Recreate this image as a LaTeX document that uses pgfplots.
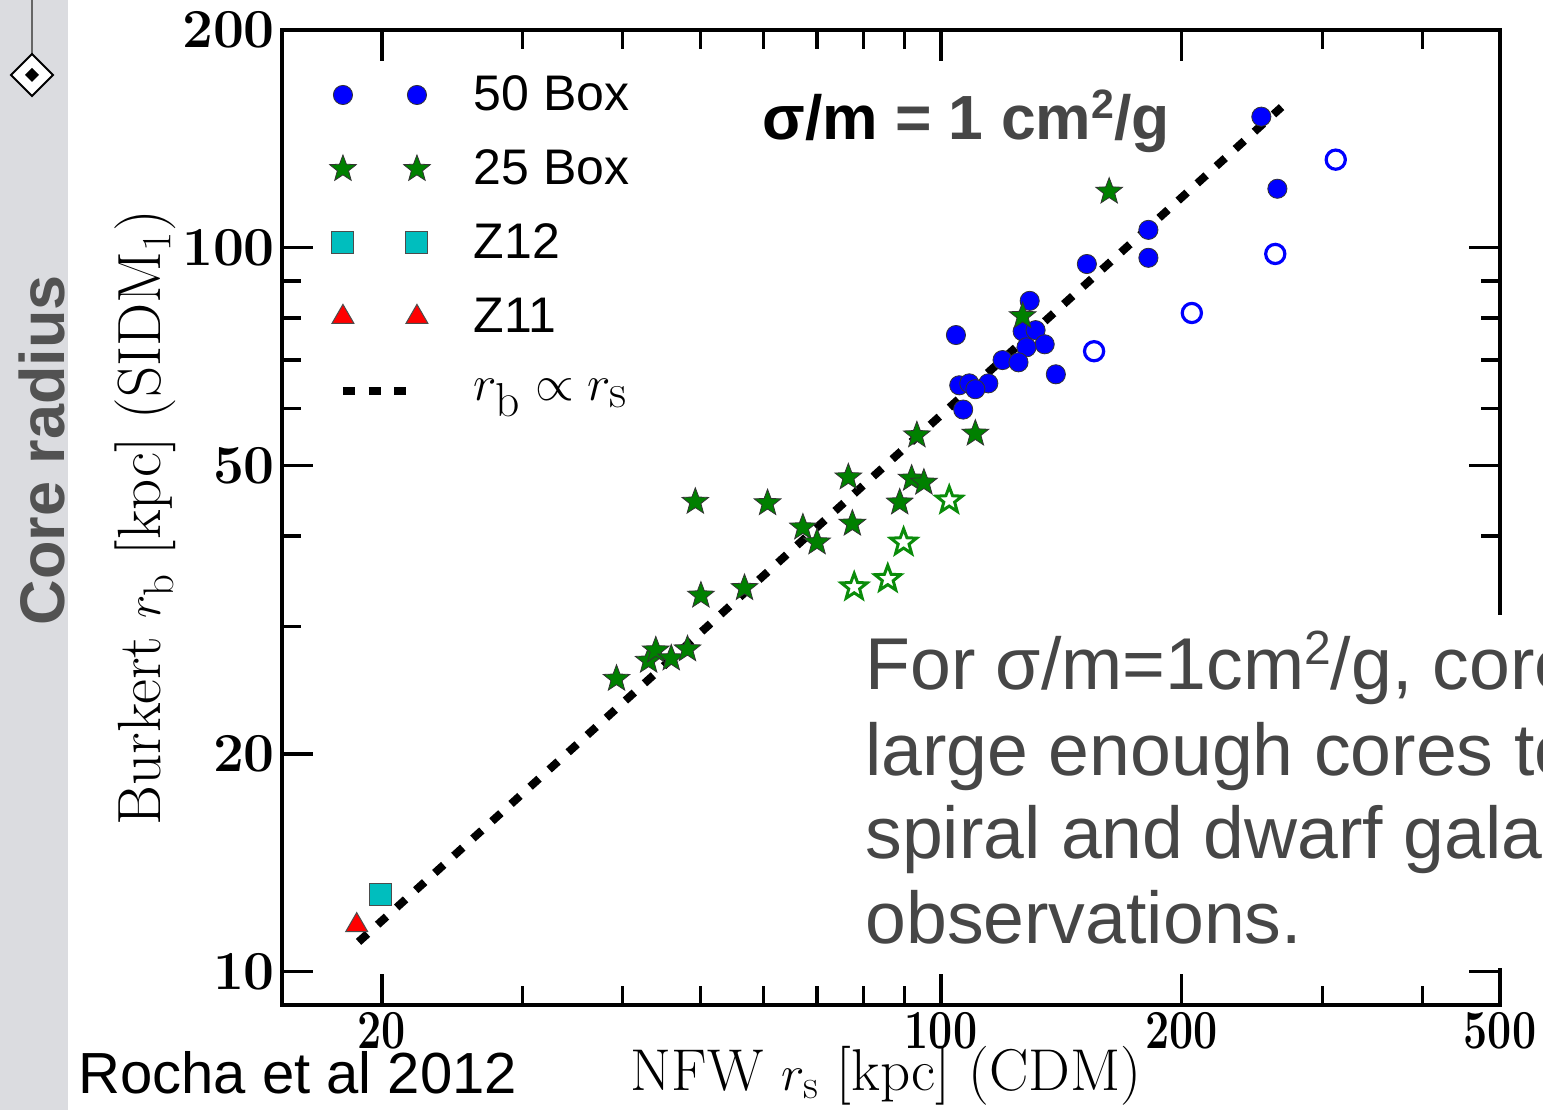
\documentclass[border=0pt]{standalone}
\usepackage{pgfplots}
\pgfplotsset{compat=1.18}
\usepackage{fontspec}
\newfontfamily\arial{Liberation Sans}
\definecolor{stripgray}{RGB}{219,220,224}
\definecolor{slidegray}{RGB}{70,70,70}
\definecolor{cgreen}{RGB}{0,128,0}
\definecolor{ogreen}{RGB}{10,140,10}
\definecolor{zcyan}{RGB}{0,190,190}
\pgfdeclareplotmark{fstar}{%
  \pgfpathmoveto{\pgfpointpolar{90}{\pgfplotmarksize}}%
  \pgfpathlineto{\pgfpointpolar{126}{0.42\pgfplotmarksize}}%
  \pgfpathlineto{\pgfpointpolar{162}{\pgfplotmarksize}}%
  \pgfpathlineto{\pgfpointpolar{198}{0.42\pgfplotmarksize}}%
  \pgfpathlineto{\pgfpointpolar{234}{\pgfplotmarksize}}%
  \pgfpathlineto{\pgfpointpolar{270}{0.42\pgfplotmarksize}}%
  \pgfpathlineto{\pgfpointpolar{306}{\pgfplotmarksize}}%
  \pgfpathlineto{\pgfpointpolar{342}{0.42\pgfplotmarksize}}%
  \pgfpathlineto{\pgfpointpolar{18}{\pgfplotmarksize}}%
  \pgfpathlineto{\pgfpointpolar{54}{0.42\pgfplotmarksize}}%
  \pgfpathclose
  \pgfusepathqfillstroke
}
\pgfplotsset{
  twomarks/.style={legend image code/.code={%
    \path[draw=none,fill=none] (-8pt,-18.5pt) rectangle (65.5pt,18.5pt);
    \draw[##1,/tikz/only marks] plot coordinates {(0pt,0pt) (37pt,0pt)};}},
  dashlegend/.style={legend image code/.code={%
    \path[draw=none,fill=none] (-8pt,-18.5pt) rectangle (65.5pt,18.5pt);
    \draw[##1] (0pt,0pt) -- (32pt,0pt);}},
}
\newcommand{\sqr}[2]{{\fontsize{#1}{#1}\selectfont\raisebox{#2}{2}}}
\begin{document}
\begin{tikzpicture}
\useasboundingbox (0pt,0pt) rectangle (771.5pt,555pt);
\clip (0pt,0pt) rectangle (771.5pt,555pt);
\begin{scope}[x=0.5pt,y=0.5pt]
\fill[white] (0,0) rectangle (1543,1110);
\fill[stripgray] (0,0) rectangle (68,1110);
\draw[black!60, line width=0.8pt] (32,1110) -- (32,1056);
\draw[black, line width=0.9pt, fill=white] (32,1056) -- (53,1035) -- (32,1014) -- (11,1035) -- cycle;
\fill[black] (32,1042) -- (39,1035) -- (32,1028) -- (25,1035) -- cycle;
\node[rotate=90, anchor=base, inner sep=0pt, text=black!68, font=\arial\bfseries\fontsize{31.5}{31.5}\selectfont] at (64,660) {Core radius};
\end{scope}
\begin{axis}[
  at={(141pt,52.5pt)}, anchor=south west,
  scale only axis, width=609pt, height=487.5pt,
  xmode=log, ymode=log,
  xmin=15, xmax=500, ymin=9, ymax=200,
  xtick={20,100,200,500}, xticklabels={20,100,200,500},
  minor xtick={30,40,50,60,70,80,90,300,400},
  ytick={10,20,50,100,200}, yticklabels={10,20,50,100,200},
  minor ytick={30,40,60,70,80,90},
  tick align=inside,
  major tick length=15.5pt, minor tick length=9.5pt,
  axis line style={line width=2.4pt},
  every tick/.style={black, line width=1.6pt},
  tick label style={font=\bfseries\fontsize{27.5}{27.5}\selectfont},
  xticklabel style={xscale=0.78},
  xlabel={NFW $r_\mathrm{s}$ [kpc] (CDM)},
  ylabel={Burkert $r_\mathrm{b}$ [kpc] (SIDM$_1$)},
  every axis x label/.style={at={(axis description cs:0.496,-0.073)}, anchor=center, font=\fontsize{29.5}{29.5}\selectfont},
  every axis y label/.style={at={(axis description cs:-0.112,0.5)}, anchor=center, rotate=90, font=\fontsize{30.5}{30.5}\selectfont},
  legend style={at={(axis description cs:0.0369,0.9713)}, anchor=north west, draw=none, fill=none, inner sep=0pt, outer sep=0pt, nodes={inner sep=0pt}, font=\arial\fontsize{25}{25}\selectfont},
  legend cell align=left,
]
\addplot[only marks, mark=*, mark size=4.8pt, mark options={fill=blue, draw=black!80, line width=0.4pt}, twomarks] coordinates {
(251.5,151.8) (263.4,120.7) (181.7,105.9) (181.7,96.9) (152.2,95.0) (129.1,84.5) (104.4,75.8) (126.5,76.7) (131.3,77.0) (134.8,73.6) (127.9,72.9) (119.4,70.0) (125.0,69.5) (139.2,66.9) (105.4,64.6) (108.5,65.0) (114.6,65.0) (110.4,63.8) (106.6,59.8)
};
\addlegendentry{50 Box}
\addplot[only marks, mark=fstar, mark size=7pt, mark options={fill=cgreen, draw=black!80, line width=0.4pt}, twomarks] coordinates {
(162.3,119.6) (126.5,80.5) (110.4,55.4) (93.3,55.1) (76.6,48.2) (91.9,48.0) (95.2,47.4) (88.8,44.5) (49.3,44.6) (60.7,44.4) (67.2,41.1) (77.5,41.6) (70.0,39.2) (50.1,33.1) (56.8,33.9) (39.3,25.4) (43.1,26.9) (44.0,27.8) (46.0,27.1) (48.2,27.9)
};
\addlegendentry{25 Box}
\addplot[only marks, mark=square*, mark size=5.5pt, mark options={fill=zcyan, draw=black!70, line width=0.5pt}, twomarks] coordinates {(19.9,12.8)};
\addlegendentry{Z12}
\addplot[only marks, mark=triangle*, mark size=6.3pt, mark options={fill=red, draw=black!70, line width=0.5pt}, twomarks] coordinates {(18.6,11.6)};
\addlegendentry{Z11}
\addplot[only marks, forget plot, mark=*, mark size=4.8pt, mark options={fill=white, draw=blue, line width=1.6pt}] coordinates {
(311.6,132.4) (261.8,98.1) (205.9,81.3) (155.4,72.0)
};
\addplot[only marks, forget plot, mark=fstar, mark size=6.8pt, mark options={fill=white, draw=ogreen, line width=1.5pt}] coordinates {
(102.4,44.8) (89.8,39.2) (85.8,34.9) (77.9,34.0)
};
\addplot[black, line width=4pt, dash pattern=on 6pt off 6.85pt, dashlegend]
  coordinates {(18.7,11.0) (266.6,156.5)};
\addlegendentry{\fontsize{34}{34}\selectfont$r_\mathrm{b} \propto r_\mathrm{s}$}
\end{axis}
\begin{scope}[x=0.5pt,y=0.5pt]
\fill[white] (840,142) rectangle (1543,495);
\begin{scope}[every node/.style={anchor=base west, inner sep=0pt, text=slidegray, font=\arial\fontsize{36.7}{36.7}\selectfont}]
\node at (865,420) {For σ/m=1cm\sqr{24}{12.5pt}/g, cores produce};
\node at (865,335) {large enough cores to match};
\node at (865,252) {spiral and dwarf galaxy};
\node at (865,167) {observations.};
\end{scope}
\node[anchor=base west, inner sep=0pt, font=\arial\bfseries\fontsize{31.2}{31.2}\selectfont] at (762,970) {σ/m \textcolor{slidegray}{= 1 cm\sqr{20.5}{10.8pt}/g}};
\node[anchor=base west, inner sep=0pt, font=\arial\fontsize{29}{29}\selectfont] at (78,17) {Rocha et al 2012};
\end{scope}
\end{tikzpicture}
\end{document}
